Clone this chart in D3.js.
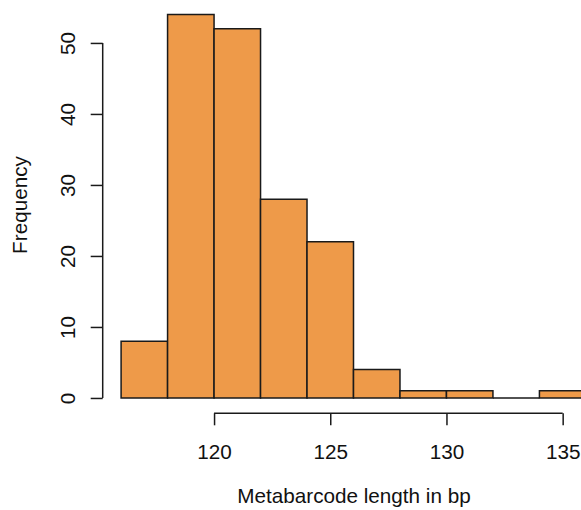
<!DOCTYPE html>
<html>
<head>
<meta charset="utf-8">
<script src="https://cdn.jsdelivr.net/npm/d3@7"></script>
<style>
  body { margin: 0; background: #fff; }
  text { font-family: "Liberation Sans", Arial, sans-serif; fill: #111; }
</style>
</head>
<body>
<svg id="svg_hist" width="581" height="510"></svg>
<script>
// histogram bins (bp) and counts
var binStarts = [116, 118, 120, 122, 124, 126, 128, 130, 132, 134];
var binWidth = 2;
var counts = [8, 54, 52, 28, 22, 4, 1, 1, 0, 1];
var xTicks = [120, 125, 130, 135];
var yTicks = [0, 10, 20, 30, 40, 50];

function drawHistogram() {
    var svg = d3.select("#svg_hist");
    var fontSize = "20.7px";

    // plot region as in R: x/y limits padded by 4%
    var x = d3.scaleLinear().domain([115.2, 136.8]).range([102.5, 604.5]),
        y = d3.scaleLinear().domain([-2.16, 56.16]).range([413.3, -0.8]);

    var data = binStarts.map(function(s, i) { return {x0: s, x1: s + binWidth, n: counts[i]}; });

    // bars as closed paths so that an empty bin still shows its outline
    svg.append("g").selectAll("path")
        .data(data)
        .enter().append("path")
        .attr("d", function(d) {
            var l = x(d.x0), r = x(d.x1), t = y(d.n), b = y(0);
            return "M" + l + "," + b + "L" + l + "," + t + "L" + r + "," + t + "L" + r + "," + b + "Z";
        })
        .attr("fill", "#EE9A49")
        .attr("stroke", "#1a1a1a")
        .attr("stroke-width", 1.5);

    // x axis
    var gx = svg.append("g").attr("transform", "translate(0,413.3)");
    gx.call(d3.axisBottom(x).tickValues(xTicks).tickSize(12).tickSizeOuter(0).tickFormat(d3.format("d")));
    gx.select(".domain").remove();
    gx.append("line")
        .attr("x1", x(xTicks[0])).attr("x2", x(xTicks[xTicks.length - 1]))
        .attr("stroke", "#1a1a1a").attr("stroke-width", 1.5);
    gx.selectAll(".tick line").attr("stroke", "#1a1a1a").attr("stroke-width", 1.5);
    gx.selectAll(".tick text")
        .attr("y", 46).attr("dy", 0)
        .style("font-size", fontSize).attr("fill", "#111")
        .style("font-family", "Liberation Sans, Arial, sans-serif");

    // y axis
    var gy = svg.append("g").attr("transform", "translate(102.7,0)");
    gy.call(d3.axisLeft(y).tickValues(yTicks).tickSize(12).tickSizeOuter(0));
    gy.select(".domain").remove();
    gy.append("line")
        .attr("y1", y(yTicks[0])).attr("y2", y(yTicks[yTicks.length - 1]))
        .attr("stroke", "#1a1a1a").attr("stroke-width", 1.5);
    gy.selectAll(".tick line").attr("stroke", "#1a1a1a").attr("stroke-width", 1.5);
    gy.selectAll(".tick text")
        .attr("x", 0).attr("dy", 0)
        .attr("transform", "translate(-28,0) rotate(-90)")
        .attr("text-anchor", "middle")
        .style("font-size", fontSize).attr("fill", "#111")
        .style("font-family", "Liberation Sans, Arial, sans-serif");

    // axis titles
    svg.append("text")
        .attr("x", 354).attr("y", 503)
        .attr("text-anchor", "middle")
        .style("font-size", fontSize)
        .text("Metabarcode length in bp");

    svg.append("text")
        .attr("transform", "translate(26.5,205) rotate(-90)")
        .attr("text-anchor", "middle")
        .style("font-size", fontSize)
        .text("Frequency");
}

drawHistogram();
</script>
</body>
</html>
